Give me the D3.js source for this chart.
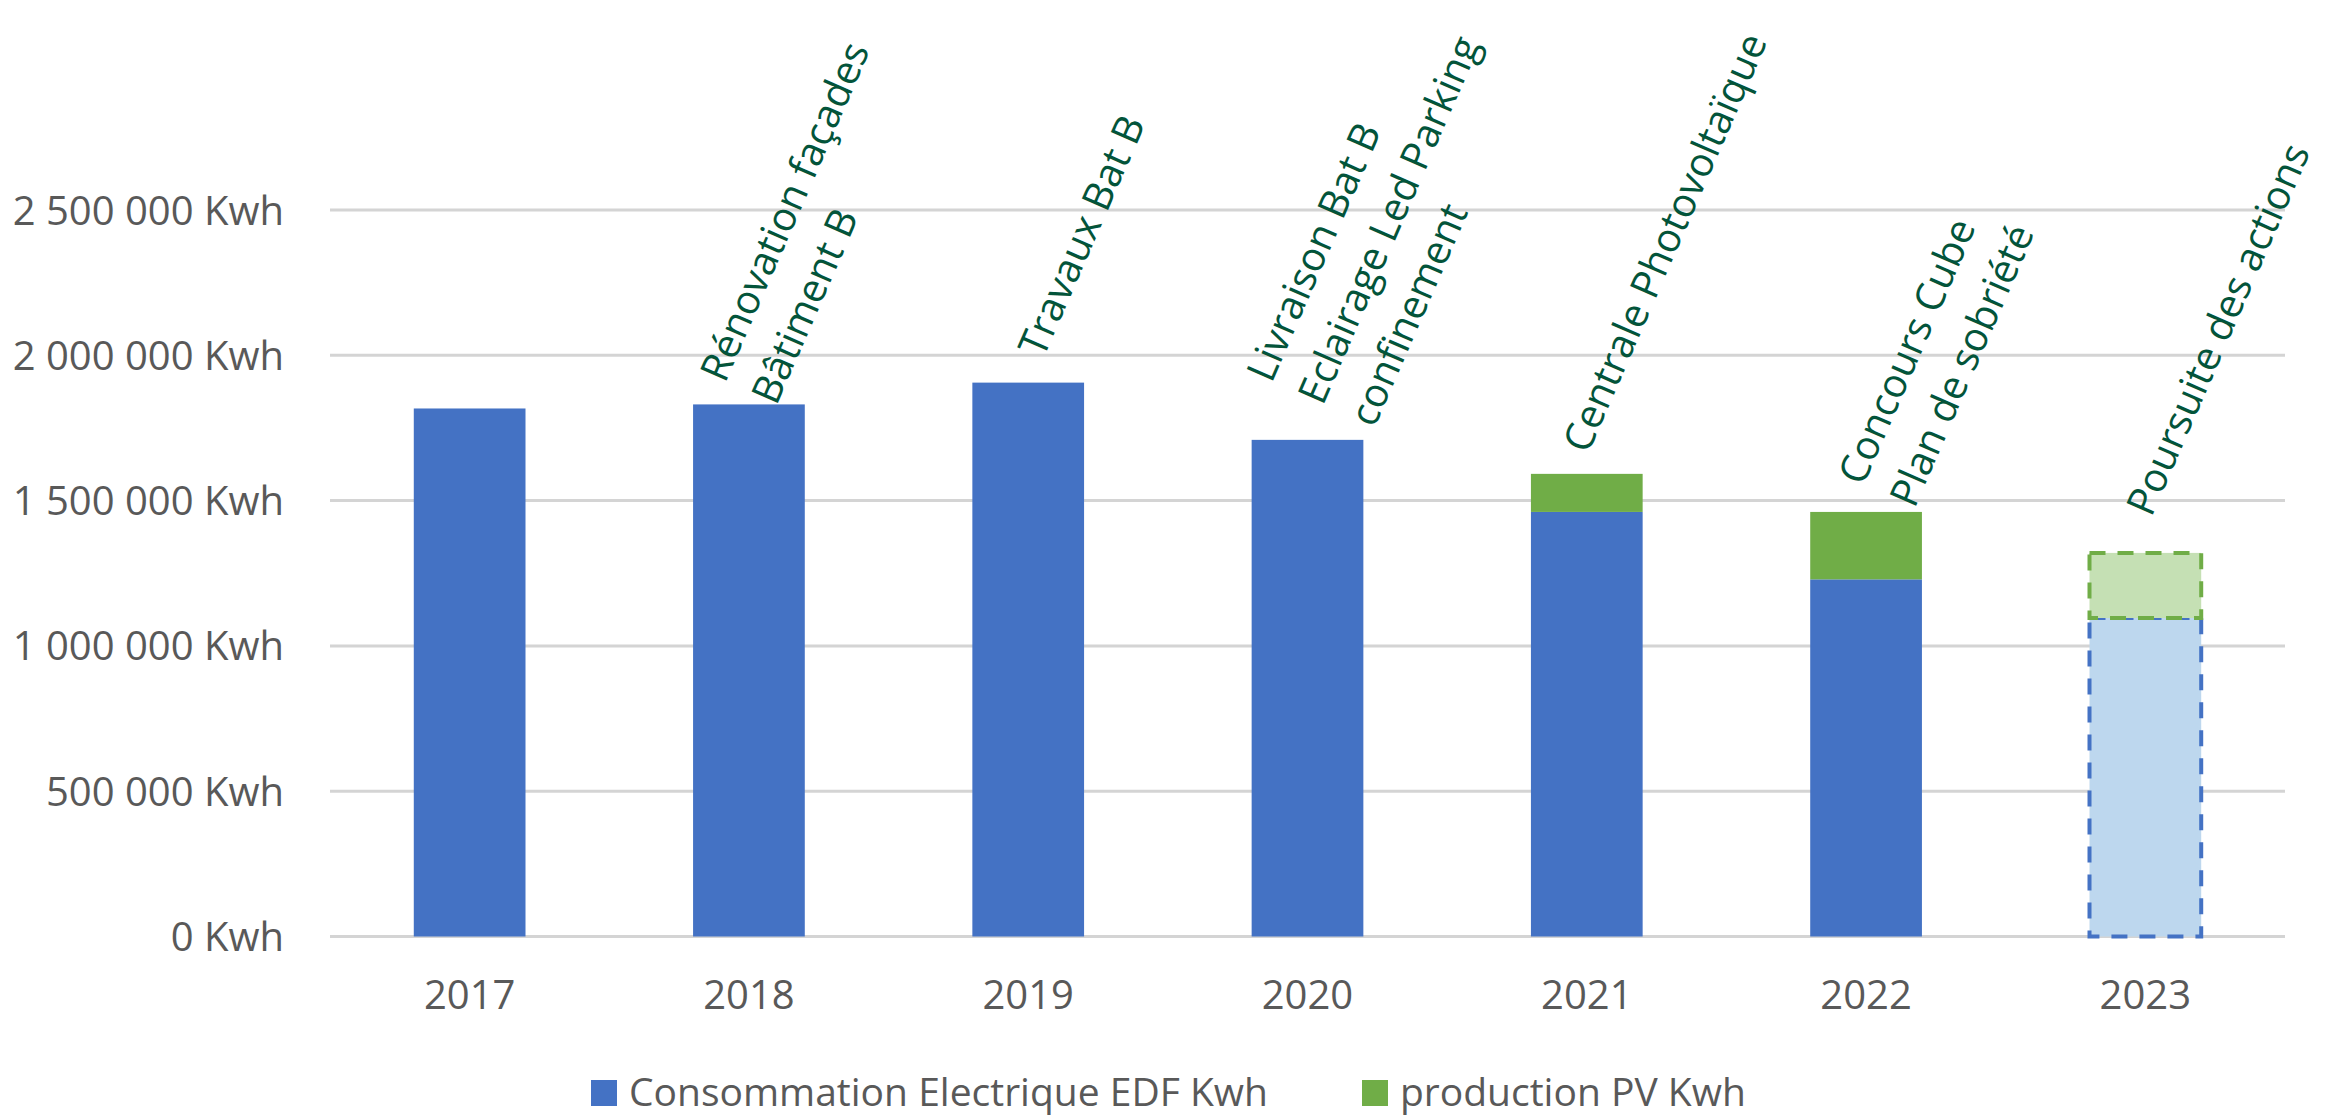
<!DOCTYPE html>
<html>
<head>
<meta charset="utf-8">
<script src="https://cdn.jsdelivr.net/npm/d3@7"></script>
<style>
  body { margin: 0; background: #fff; }
  svg { display: block; }
  .tick-label { font-family: "Open Sans", sans-serif; fill: #595959; }
  .note { font-family: "Open Sans", sans-serif; fill: #03543A; }
</style>
</head>
<body>
<div id="chart"></div>
<script>

// data
var years   = ["2017", "2018", "2019", "2020", "2021", "2022", "2023"];
var edfKwh  = [1817000, 1831000, 1906000, 1709000, 1461000, 1229000, 1096000];
var pvKwh   = [0, 0, 0, 0, 131000, 232000, 224000];
var forecastYears = ["2023"];
var yTicks  = [0, 500000, 1000000, 1500000, 2000000, 2500000];
var seriesNames = ["Consommation Electrique EDF Kwh", "production PV Kwh"];

var notes = [
  [],
  ["Rénovation façades", "Bâtiment B"],
  ["Travaux Bat B"],
  ["Livraison Bat B", "Eclairage Led Parking", "confinement"],
  ["Centrale Photovoltaïque"],
  ["Concours Cube", "Plan de sobriété"],
  ["Poursuite des actions"]
];
// where each note starts (value on the y axis) and its shift from the bar centre
var noteAnchorKwh = [null, 1901000, 1987000, 1901000, 1657000, 1547000, 1440000];
var noteShift     = [0, -24, 15, -36, 1, -3, 6];

var W = 2325, H = 1116;
var plot = {left: 330, right: 2285, top: 210, bottom: 936.5};

var colors = {edf: "#4472C4", pv: "#70AD47", edfLight: "#BDD7EE", pvLight: "#C5E0B4"};

var svg = d3.select("#chart").append("svg")
            .attr("width", W).attr("height", H);

var XScale = d3.scaleBand().domain(years).range([plot.left, plot.right]).paddingInner(0.6).paddingOuter(0.3);
var YScale = d3.scaleLinear().domain([0, 2500000]).range([plot.bottom, plot.top]);

var fr = d3.formatLocale({decimal: ",", thousands: " ", grouping: [3], currency: ["", ""]});
var fmt = function (v) { return fr.format(",")(v) + " Kwh"; };

// gridlines
svg.append("g").selectAll("line")
   .data(yTicks).enter().append("line")
   .attr("x1", plot.left).attr("x2", plot.right)
   .attr("y1", function (d) { return YScale(d); })
   .attr("y2", function (d) { return YScale(d); })
   .attr("stroke", "#D4D4D4").attr("stroke-width", 3);

// y axis labels
svg.append("g").selectAll("text")
   .data(yTicks).enter().append("text")
   .attr("class", "tick-label")
   .attr("x", 284)
   .attr("y", function (d) { return YScale(d) + 14.5; })
   .attr("text-anchor", "end")
   .style("font-size", "40px")
   .text(fmt);

// x axis labels
svg.append("g").selectAll("text")
   .data(years).enter().append("text")
   .attr("class", "tick-label")
   .attr("x", function (d) { return XScale(d) + XScale.bandwidth() / 2; })
   .attr("y", 1009)
   .attr("text-anchor", "middle")
   .style("font-size", "40px")
   .text(function (d) { return d; });

var rows = years.map(function (y, i) {
  return {year: y, edf: edfKwh[i], pv: pvKwh[i], forecast: forecastYears.indexOf(y) >= 0};
});

// consumption bars
svg.append("g").selectAll("rect")
   .data(rows).enter().append("rect")
   .attr("x", function (d) { return XScale(d.year); })
   .attr("width", XScale.bandwidth())
   .attr("y", function (d) { return YScale(d.edf); })
   .attr("height", function (d) { return YScale(0) - YScale(d.edf); })
   .attr("fill", function (d) { return d.forecast ? colors.edfLight : colors.edf; })
   .attr("stroke", function (d) { return d.forecast ? colors.edf : "none"; })
   .attr("stroke-width", 4)
   .attr("stroke-dasharray", "16,12");

// PV bars stacked on top
svg.append("g").selectAll("rect")
   .data(rows.filter(function (d) { return d.pv > 0; })).enter().append("rect")
   .attr("x", function (d) { return XScale(d.year); })
   .attr("width", XScale.bandwidth())
   .attr("y", function (d) { return YScale(d.edf + d.pv); })
   .attr("height", function (d) { return YScale(d.edf) - YScale(d.edf + d.pv); })
   .attr("fill", function (d) { return d.forecast ? colors.pvLight : colors.pv; })
   .attr("stroke", function (d) { return d.forecast ? colors.pv : "none"; })
   .attr("stroke-width", 4)
   .attr("stroke-dasharray", "16,12");

// rotated notes above the bars
var noteG = svg.append("g");
notes.forEach(function (lines, i) {
  if (!lines.length) return;
  var x = XScale(years[i]) + XScale.bandwidth() / 2 + noteShift[i],
      y = YScale(noteAnchorKwh[i]);
  var t = noteG.append("text")
               .attr("class", "note")
               .style("font-size", "40px")
               .attr("transform", "translate(" + x + "," + y + ") rotate(-66.5)");
  lines.forEach(function (line, k) {
    t.append("tspan").attr("x", 0).attr("dy", k == 0 ? 0 : 56).text(line);
  });
});

// legend
var legend = svg.append("g");
var legendItems = [
  {name: seriesNames[0], color: colors.edf, x: 591},
  {name: seriesNames[1], color: colors.pv, x: 1362}
];
legendItems.forEach(function (d) {
  legend.append("rect").attr("x", d.x).attr("y", 1080).attr("width", 26).attr("height", 26).attr("fill", d.color);
  legend.append("text").attr("class", "tick-label")
        .attr("x", d.x + 38).attr("y", 1106)
        .style("font-size", "39px")
        .text(d.name);
});

</script>
</body>
</html>
